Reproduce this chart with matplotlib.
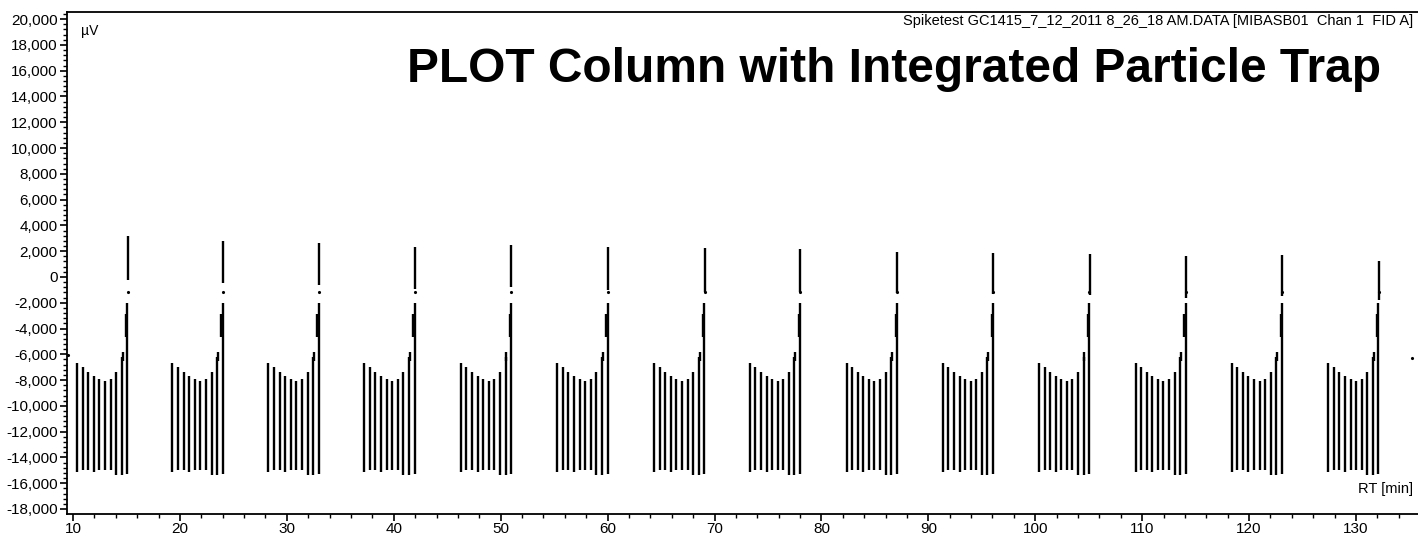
import matplotlib
matplotlib.use('Agg')
import matplotlib.pyplot as plt
from matplotlib.ticker import MultipleLocator, AutoMinorLocator, FuncFormatter

plt.rcParams['font.family'] = ['Liberation Sans', 'DejaVu Sans']

# retention time of the tall last spike in each injection group [min]
peak_times = [15.08, 24.0, 32.98, 41.95, 50.98, 60.0, 69.05, 78.0, 87.05, 96.05, 105.05, 114.08, 123.07, 132.1]
# top and lower end of that spike [uV]
peak_tops = [3200, 2800, 2650, 2300, 2450, 2300, 2250, 2200, 1900, 1850, 1750, 1600, 1700, 1250]
spike_lows = [-250, -450, -600, -900, -800, -1000, -1150, -1200, -1250, -1350, -1400, -1600, -1500, -1800]

# burst pattern inside one group (offset from the spike, top and bottom of each burst)
burst_offsets = [-4.7, -4.18, -3.66, -3.13, -2.61, -2.09, -1.57, -1.04, -0.52, 0.0]
burst_tops = [-6700, -7000, -7350, -7700, -7950, -8050, -7900, -7400, -6200, -2000]
burst_bottoms = [-15150, -14950, -14950, -15100, -15000, -15000, -15000, -15350, -15350, -15250]
dash_offsets = [-0.45, -0.12]
dash_tops = [-5850, -2900]
dash_bottoms = [-6500, -4650]
dot_value = -1200

# stray points at the start and the end of the run
stray_x = [9.5, 135.2]
stray_y = [-6050, -6250]

fig = plt.figure(figsize=(14.18, 5.37), dpi=100)
ax = fig.add_axes([0.0475, 0.0428, 0.9525, 0.935])

for t, top, low in zip(peak_times, peak_tops, spike_lows):
    xs = [t + o for o in burst_offsets]
    ax.vlines(xs, burst_bottoms, burst_tops, color='black', lw=1.7)
    ax.vlines([t + o for o in dash_offsets], dash_bottoms, dash_tops, color='black', lw=1.7)
    ax.vlines([t + 0.03], [low], [top], color='black', lw=1.7)
    ax.plot([t + 0.02], [dot_value], 'k.', ms=2.5)

ax.plot(stray_x, stray_y, 'k.', ms=2.5)

ax.set_xlim(9.47, 135.8)
ax.set_ylim(-18390, 20560)

ax.xaxis.set_major_locator(MultipleLocator(10))
ax.xaxis.set_minor_locator(AutoMinorLocator(5))
ax.yaxis.set_major_locator(MultipleLocator(2000))
ax.yaxis.set_minor_locator(AutoMinorLocator(5))
ax.yaxis.set_major_formatter(FuncFormatter(lambda v, p: f"{int(round(v)):,}"))

ax.tick_params(axis='both', which='major', direction='out', length=5, width=1.2, labelsize=11, pad=2)
ax.tick_params(axis='x', which='major', pad=1)
ax.tick_params(axis='both', which='minor', direction='out', length=3, width=1)
ax.spines['right'].set_visible(False)
for s in ['left', 'bottom', 'top']:
    ax.spines[s].set_linewidth(1.3)

ax.text(0.01, 0.975, 'µV', transform=ax.transAxes, fontsize=10, va='top', ha='left')
ax.text(0.9965, 0.982, 'Spiketest GC1415_7_12_2011 8_26_18 AM.DATA [MIBASB01  Chan 1  FID A]',
        transform=ax.transAxes, fontsize=10.5, va='center', ha='right')
ax.text(0.9725, 0.86, 'PLOT Column with Integrated Particle Trap', transform=ax.transAxes,
        fontsize=34.5, fontweight='bold', va='baseline', ha='right')
ax.text(0.9965, 0.035, 'RT [min]', transform=ax.transAxes, fontsize=10.5, va='bottom', ha='right')

fig.savefig('out.png', dpi=100)
